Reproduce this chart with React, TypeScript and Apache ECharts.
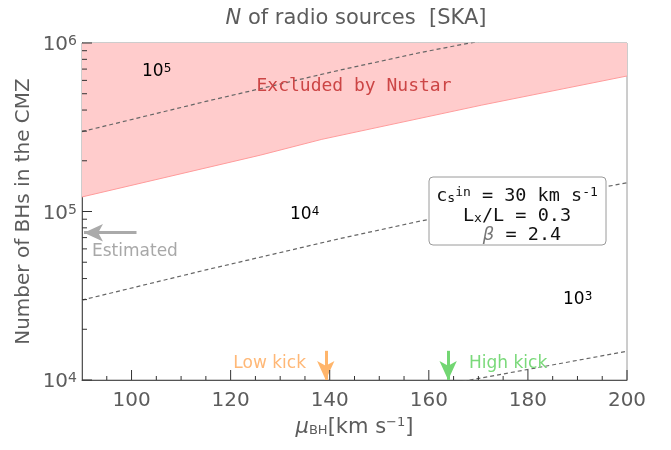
import React, { useEffect, useRef } from "react";
import * as echarts from "echarts";

// ---- data ----
const X_MIN = 90;
const X_MAX = 200;
const Y_MIN = 1e4;
const Y_MAX = 1e6;
const xMajorTicks = [100, 120, 140, 160, 180, 200];
const xMinorTicks = [95, 105, 110, 115, 125, 130, 135, 145, 150, 155, 165, 170, 175, 185, 190, 195];
const yMajorTicks = [1e4, 1e5, 1e6];
const yMinorTicks = [
  2e4, 3e4, 4e4, 5e4, 6e4, 7e4, 8e4, 9e4,
  2e5, 3e5, 4e5, 5e5, 6e5, 7e5, 8e5, 9e5,
];

// contour lines (N of radio sources)
const contour1e5: [number, number][] = [[90, 2.98e5], [115, 4.5e5], [142, 6.9e5], [158.5, 8.8e5], [168.3, 1.0e6], [200, 1.48e6]];
const contour1e4: [number, number][] = [[90, 2.98e4], [115, 4.5e4], [142, 6.9e4], [158.5, 8.8e4], [200, 1.48e5]];
const contour1e3: [number, number][] = [[158.5, 8.8e3], [168.3, 1.0e4], [200, 1.48e4]];

// lower boundary of the region excluded by Nustar
const nustarBound: [number, number][] = [[90, 1.22e5], [126, 2.16e5], [138.4, 2.68e5], [170.7, 4.28e5], [200, 6.37e5]];

// arrows
const lowKick = 139.2;
const highKick = 163.9;
const kickArrowTop = 1.49e4;
const kickArrowEnd = 1.0e4;
const estimatedN = 7.48e4;
const estimatedFrom = 101.0;
const estimatedTo = 90.4;

const SANS = "DejaVu Sans";
const MONO = "DejaVu Sans Mono";
const GREY = "#5c5c5c";

export default function App() {
  const ref = useRef<HTMLDivElement>(null);

  useEffect(() => {
    if (!ref.current) return;
    const chart = echarts.init(ref.current, null, { renderer: "svg" });

    const dashed = (data: [number, number][]) => ({
      type: "line",
      data,
      symbol: "none",
      silent: true,
      clip: true,
      lineStyle: { color: "#666", width: 1.2, type: [4, 3] },
      z: 3,
    });

    const arrowLine = (from: [number, number], to: [number, number], color: string) => ({
      type: "line",
      data: [],
      silent: true,
      markLine: {
        silent: true,
        symbol: ["none", "arrow"],
        symbolSize: [13, 19],
        label: { show: false },
        lineStyle: { color, width: 3, type: "solid" },
        emphasis: { disabled: true },
        data: [[{ coord: from }, { coord: to }]],
      },
      z: 4,
    });

    // axis ticks drawn inward, positioned through the axes' own scales
    const tickSeries = (data: [number, number][], dir: "x" | "y", len: number) => ({
      type: "custom",
      silent: true,
      clip: false,
      data,
      z: 6,
      renderItem: (_p: any, api: any) => {
        const pt = api.coord([api.value(0), api.value(1)]);
        const shape =
          dir === "x"
            ? { x1: pt[0], y1: pt[1], x2: pt[0], y2: pt[1] - len }
            : { x1: pt[0], y1: pt[1], x2: pt[0] + len, y2: pt[1] };
        return { type: "line", shape, style: { stroke: "#333", lineWidth: 1 } };
      },
    });

    const supRich = (size: number, color: string) => ({
      b: { fontSize: size, color, fontFamily: SANS, verticalAlign: "bottom" },
      s: { fontSize: Math.round(size * 0.68), color, fontFamily: SANS, verticalAlign: "top" },
    });

    const option: any = {
      animation: false,
      grid: {
        left: 82, right: 44, top: 43, bottom: 70,
        show: true, borderColor: "#9a9a9a", borderWidth: 1, backgroundColor: "transparent",
      },
      xAxis: {
        type: "value", min: X_MIN, max: X_MAX, position: "bottom",
        axisLine: { show: true, onZero: false, lineStyle: { color: "#555", width: 1 } },
        axisTick: { show: false },
        axisLabel: { customValues: xMajorTicks, fontSize: 20, color: GREY, fontFamily: SANS, margin: 9 },
        splitLine: { show: false },
        name: "{mu|μ}{sub|BH}{n|[km s}{sup|−1}{n|]}",
        nameLocation: "middle",
        nameGap: 35,
        nameTextStyle: {
          rich: {
            mu: { fontSize: 21, color: GREY, fontFamily: SANS, fontStyle: "italic", verticalAlign: "bottom" },
            sub: { fontSize: 13, color: GREY, fontFamily: SANS, verticalAlign: "bottom" },
            n: { fontSize: 21, color: GREY, fontFamily: SANS, verticalAlign: "bottom" },
            sup: { fontSize: 13, color: GREY, fontFamily: SANS, verticalAlign: "top" },
          },
        },
      },
      yAxis: {
        type: "log", logBase: 10, min: Y_MIN, max: Y_MAX, position: "left",
        axisLine: { show: true, onZero: false, lineStyle: { color: "#555", width: 1 } },
        axisTick: { show: false },
        axisLabel: {
          margin: 5,
          formatter: (v: number) => `{b|10}{s|${Math.round(Math.log10(v))}}`,
          rich: supRich(20, GREY),
        },
        splitLine: { show: false },
        minorTick: { show: false },
        name: "Number of BHs in the CMZ",
        nameLocation: "middle",
        nameGap: 47,
        nameTextStyle: { fontSize: 20, color: GREY, fontFamily: SANS },
      },
      series: [
        {
          type: "line",
          data: nustarBound,
          symbol: "none",
          silent: true,
          lineStyle: { color: "#ff9c9c", width: 1 },
          areaStyle: { color: "#ffcccc", opacity: 1, origin: "end" },
          z: 2,
        },
        dashed(contour1e5),
        dashed(contour1e4),
        dashed(contour1e3),
        arrowLine([lowKick, kickArrowTop], [lowKick, kickArrowEnd], "#ffb56b"),
        arrowLine([highKick, kickArrowTop], [highKick, kickArrowEnd], "#72d672"),
        arrowLine([estimatedFrom, estimatedN], [estimatedTo, estimatedN], "#aaaaaa"),
        tickSeries(xMajorTicks.map((v) => [v, Y_MIN] as [number, number]), "x", 10),
        tickSeries(xMinorTicks.map((v) => [v, Y_MIN] as [number, number]), "x", 4),
        tickSeries(yMajorTicks.map((v) => [X_MIN, v] as [number, number]), "y", 10),
        tickSeries(yMinorTicks.map((v) => [X_MIN, v] as [number, number]), "y", 5),
      ],
      graphic: [
        {
          type: "text", x: 356, y: 17, z: 10,
          style: {
            text: "{i|N}{n| of radio sources  [SKA]}",
            align: "center", verticalAlign: "middle",
            rich: {
              i: { fontSize: 21, fontStyle: "italic", fill: GREY, fontFamily: SANS },
              n: { fontSize: 21, fill: GREY, fontFamily: SANS },
            },
          },
        },
        {
          type: "text", x: 354, y: 84, z: 10,
          style: {
            text: "Excluded by Nustar",
            fontFamily: MONO, fontSize: 18, fill: "#cc4545",
            align: "center", verticalAlign: "middle",
          },
        },
        {
          type: "text", x: 142, y: 70, z: 10,
          style: { text: "{b|10}{s|5}", align: "left", verticalAlign: "middle", rich: supRich(17, "#444") },
        },
        {
          type: "text", x: 290, y: 213, z: 10,
          style: { text: "{b|10}{s|4}", align: "left", verticalAlign: "middle", rich: supRich(17, "#444") },
        },
        {
          type: "text", x: 563, y: 298, z: 10,
          style: { text: "{b|10}{s|3}", align: "left", verticalAlign: "middle", rich: supRich(17, "#444") },
        },
        {
          type: "text", x: 92, y: 250, z: 10,
          style: { text: "Estimated", fontFamily: SANS, fontSize: 17, fill: "#a8a8a8", align: "left", verticalAlign: "middle" },
        },
        {
          type: "text", x: 306, y: 362, z: 10,
          style: { text: "Low kick", fontFamily: SANS, fontSize: 17, fill: "#ffb877", align: "right", verticalAlign: "middle" },
        },
        {
          type: "text", x: 469, y: 362, z: 10,
          style: { text: "High kick", fontFamily: SANS, fontSize: 17, fill: "#7ad97a", align: "left", verticalAlign: "middle" },
        },
        {
          type: "rect", z: 10,
          shape: { x: 429, y: 177, width: 177, height: 68, r: 4 },
          style: { fill: "#fff", stroke: "#9a9a9a", lineWidth: 1 },
        },
        {
          type: "text", x: 517, y: 194, z: 11,
          style: {
            text: "{m|c}{sub|s}{sup|in}{m| = 30 km s}{sup|-1}",
            align: "center", verticalAlign: "middle",
            rich: {
              m: { fontFamily: MONO, fontSize: 18.5, fill: "#111", verticalAlign: "bottom" },
              sub: { fontFamily: MONO, fontSize: 13, fill: "#111", verticalAlign: "bottom" },
              sup: { fontFamily: MONO, fontSize: 13, fill: "#111", verticalAlign: "top" },
            },
          },
        },
        {
          type: "text", x: 517, y: 214, z: 11,
          style: {
            text: "{m|L}{sub|x}{m|/L = 0.3}",
            align: "center", verticalAlign: "middle",
            rich: {
              m: { fontFamily: MONO, fontSize: 18.5, fill: "#111", verticalAlign: "bottom" },
              sub: { fontFamily: MONO, fontSize: 13, fill: "#111", verticalAlign: "bottom" },
            },
          },
        },
        {
          type: "text", x: 522, y: 233, z: 11,
          style: {
            text: "{b|β}{m| = 2.4}",
            align: "center", verticalAlign: "middle",
            rich: {
              b: { fontFamily: SANS, fontStyle: "italic", fontSize: 18, fill: "#777" },
              m: { fontFamily: MONO, fontSize: 18.5, fill: "#111" },
            },
          },
        },
      ],
    };

    chart.setOption(option);
    return () => chart.dispose();
  }, []);

  return (
    <div
      ref={ref}
      style={{ position: "fixed", left: 0, top: 0, width: 671, height: 450 }}
    />
  );
}
